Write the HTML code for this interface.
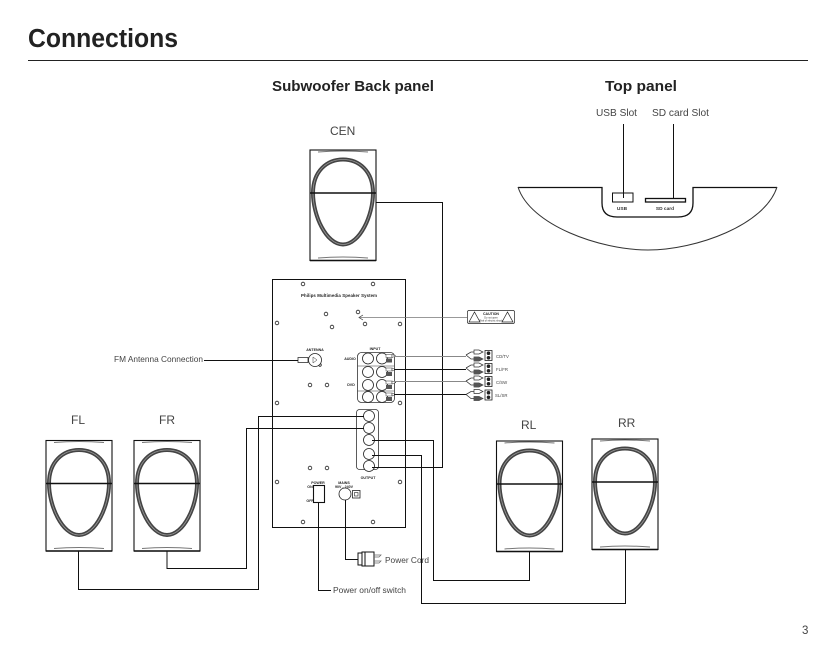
<!DOCTYPE html>
<html><head><meta charset="utf-8"><style>
html,body{margin:0;padding:0;background:#fff}
svg{display:block}
text{font-family:"Liberation Sans",sans-serif;fill:#444}
.h{font-weight:bold;fill:#222}
.w{fill:none;stroke:#111;stroke-width:1}
.c{fill:#fff;stroke:#222;stroke-width:.8}
.m{fill:#fff;stroke:#111;stroke-width:1}
.t{font-size:3.6px;fill:#222;font-weight:bold;text-anchor:middle}
</style></head><body>
<svg width="825" height="647" viewBox="0 0 825 647" xmlns="http://www.w3.org/2000/svg">
<defs>
<g id="sp">
<rect x="0" y="0" width="66" height="110.5" fill="#fff" stroke="#111" stroke-width="1.1"/>
<path d="M8 2Q33 0 58 2" fill="none" stroke="#777" stroke-width="1"/>
<path d="M8 108Q33 106 58 108" fill="none" stroke="#777" stroke-width="1"/>
<path d="M0 110.5H66" stroke="#111" stroke-width="1.6"/>
<path d="M3 43C3 21 17 9.500 33 9.500C49 9.500 63 21 63 43C63 65 50 94.500 33 94.500C16 94.500 3 65 3 43Z" fill="none" stroke="#444" stroke-width="4"/>
<path d="M3 43C3 21 17 9.500 33 9.500C49 9.500 63 21 63 43C63 65 50 94.500 33 94.500C16 94.500 3 65 3 43Z" fill="none" stroke="#999" stroke-width=".8"/>
<path d="M0 43H66" stroke="#111" stroke-width="1.400"/>
</g>
<g id="rca">
<path d="M-8 0L-3 -3H0M-8 0L-3 4H0" fill="none" stroke="#333" stroke-width=".8"/>
<path d="M0 -5H5L9 -3L5 -1H0ZM0 2H5L9 4L5 6H0Z" fill="#fff" stroke="#333" stroke-width=".7"/>
<path d="M0 2H5L9 4L5 6H0Z" fill="#555"/>
<rect x="11" y="-4.500" width="7" height="10" fill="#fff" stroke="#222" stroke-width=".8"/>
<circle cx="14.500" cy="-1.800" r="1.800" fill="#222"/><circle cx="14.500" cy="2.800" r="1.800" fill="#222"/>
</g>
<g id="in">
<circle cx="0" cy="0" r="5.500" class="c"/>
<circle cx="14" cy="0" r="5.500" class="c"/>
<rect x="18" y="-4" width="6" height="3" fill="#fff" stroke="#333" stroke-width=".5"/>
<rect x="18" y="0" width="6" height="4" fill="#555"/>
<path d="M24 -4L28 -2.500L24 -1Z" fill="#fff" stroke="#333" stroke-width=".5"/>
</g>
</defs>

<text x="28" y="47" class="h" font-size="25.500" textLength="150" lengthAdjust="spacingAndGlyphs">Connections</text>
<path d="M28 60.500H808" stroke="#222" stroke-width="1"/>
<text x="272" y="91" class="h" font-size="14.500" textLength="162" lengthAdjust="spacingAndGlyphs">Subwoofer Back panel</text>
<text x="605" y="91" class="h" font-size="14.500" textLength="72" lengthAdjust="spacingAndGlyphs">Top panel</text>

<text x="596" y="116" font-size="10.200" textLength="41" lengthAdjust="spacingAndGlyphs">USB Slot</text>
<text x="652" y="116" font-size="10.200" textLength="57" lengthAdjust="spacingAndGlyphs">SD card Slot</text>
<text x="330" y="135" font-size="12">CEN</text>
<text x="71" y="424" font-size="12">FL</text>
<text x="159" y="424" font-size="12">FR</text>
<text x="521" y="429" font-size="12">RL</text>
<text x="618" y="427" font-size="12">RR</text>
<text x="114" y="362" font-size="8.500" textLength="89" lengthAdjust="spacingAndGlyphs">FM Antenna Connection</text>
<text x="385" y="563" font-size="8.500" textLength="44" lengthAdjust="spacingAndGlyphs">Power Cord</text>
<text x="333" y="593" font-size="8.500" textLength="73" lengthAdjust="spacingAndGlyphs">Power on/off switch</text>
<text x="802" y="634" font-size="11.500" fill="#333">3</text>

<!-- top panel -->
<path d="M518 187.500H602V203Q602 217 617 217H678Q693 217 693 203V187.500H777" fill="none" stroke="#111" stroke-width="1.300"/>
<path d="M518 187C530 225 600 250 648 250C696 250 765 225 777 187" fill="none" stroke="#333" stroke-width="1"/>
<rect x="612.500" y="193" width="20.500" height="9" fill="none" stroke="#111" stroke-width="1"/>
<rect x="645.500" y="198.500" width="40" height="3.500" fill="#fff" stroke="#111" stroke-width="1.300"/>
<text x="622" y="210" font-size="4.800" font-weight="bold" text-anchor="middle" style="fill:#333">USB</text>
<text x="665" y="210" font-size="4.800" font-weight="bold" text-anchor="middle" style="fill:#333">SD card</text>
<path d="M623.500 124V198M673.500 124V199" stroke="#111" stroke-width="1"/>

<!-- speakers -->
<use href="#sp" x="310" y="150"/>
<use href="#sp" x="46" y="440.500"/>
<use href="#sp" x="134" y="440.500"/>
<use href="#sp" x="496.500" y="441"/>
<use href="#sp" x="592" y="439"/>

<!-- panel -->
<rect x="272.500" y="279.500" width="133" height="248" fill="#fff" stroke="#111" stroke-width="1"/>
<text x="339" y="297" font-size="4.300" font-weight="bold" text-anchor="middle" textLength="76" style="fill:#222">Philips Multimedia Speaker System</text>
<g fill="#fff" stroke="#222" stroke-width=".8">
<circle cx="303" cy="284" r="1.800"/><circle cx="373" cy="284" r="1.800"/><circle cx="326" cy="314" r="1.800"/><circle cx="358" cy="312" r="1.800"/><circle cx="332" cy="327" r="1.800"/><circle cx="277" cy="323" r="1.800"/><circle cx="365" cy="324" r="1.800"/><circle cx="400" cy="324" r="1.800"/><circle cx="310" cy="385" r="1.800"/><circle cx="327" cy="385" r="1.800"/><circle cx="277" cy="403" r="1.800"/><circle cx="400" cy="403" r="1.800"/><circle cx="310" cy="468" r="1.800"/><circle cx="327" cy="468" r="1.800"/><circle cx="277" cy="482" r="1.800"/><circle cx="400" cy="482" r="1.800"/><circle cx="303" cy="522" r="1.800"/><circle cx="373" cy="522" r="1.800"/><circle cx="320" cy="365" r="1.300"/>
</g>
<text x="315" y="351" class="t">ANTENNA</text>
<text x="350" y="360" class="t">AUDIO</text>
<text x="351" y="386" class="t">DVD</text>
<text x="375" y="350" class="t">INPUT</text>
<text x="368" y="479" class="t">OUTPUT</text>
<text x="318" y="484" class="t">POWER</text>
<text x="344" y="484" class="t">MAINS</text>
<text x="344" y="488" class="t">90V - 240V</text>
<text x="310" y="488" class="t">ON</text>
<text x="310" y="502" class="t">OFF</text>
<rect x="298" y="357.500" width="10" height="5" fill="#fff" stroke="#333" stroke-width=".8"/>
<circle cx="315" cy="360" r="6.500" class="c"/>
<path d="M313 357V363L317 360Z" fill="none" stroke="#333" stroke-width=".5"/>
<rect x="357.500" y="352.500" width="37" height="50" rx="4" fill="none" stroke="#333" stroke-width=".8"/>
<path d="M357.500 366H394M357.500 391H394" stroke="#333" stroke-width=".5" fill="none"/>
<use href="#in" x="368" y="358.500"/><use href="#in" x="368" y="372"/><use href="#in" x="368" y="385"/><use href="#in" x="368" y="397"/>
<rect x="356.500" y="409.500" width="22" height="60" rx="3" fill="none" stroke="#333" stroke-width=".8"/>
<circle cx="369" cy="416" r="5.500" class="c"/><circle cx="369" cy="428" r="5.500" class="c"/><circle cx="369" cy="440" r="5.500" class="c"/><circle cx="369" cy="454" r="5.500" class="c"/><circle cx="369" cy="466" r="5.500" class="c"/>
<rect x="313.500" y="485.500" width="11" height="17" fill="#fff" stroke="#111" stroke-width="1.100"/>
<circle cx="345" cy="494" r="6" class="c"/>
<rect x="352.500" y="490.500" width="7.500" height="7.500" fill="#fff" stroke="#222" stroke-width=".8"/>
<rect x="354.500" y="492.500" width="3.500" height="3.500" fill="none" stroke="#222" stroke-width=".6"/>

<!-- wires -->
<path class="w" d="M376 202.500H442.500V467.500H372"/>
<path class="w" d="M78.500 551V589.500H258.500V416.500H364"/>
<path class="w" d="M167 551V568.500H246.500V428.500H364"/>
<path class="w" d="M372 440.500H433.500V580.500H529.500V551"/>
<path class="w" d="M372 455.500H421.500V603.500H625.500V549"/>
<path class="w" d="M204 360.500H298"/>
<path class="w" d="M318.500 502V590.500H331"/>
<path class="w" d="M345.500 500V559.500H358"/>
<path d="M360 317.500H467" stroke="#777" stroke-width=".8"/>
<path d="M363 315L359 317.500L363 320" fill="none" stroke="#333" stroke-width=".7"/>
<path d="M394 356.500H466M394 381.500H466" stroke="#888" stroke-width="1"/>
<path d="M394 369.500H466M394 394.500H466" stroke="#111" stroke-width="1"/>

<!-- plug -->
<rect x="358" y="553" width="4" height="12" class="m"/>
<path d="M362 552H374V566H362Z" class="m"/>
<path d="M365 552V566" stroke="#111"/>
<path d="M374 555H381L379 557H374M374 561H381L379 563H374" fill="none" stroke="#666" stroke-width=".7"/>

<!-- caution -->
<rect x="467.500" y="310.500" width="47" height="13" rx="1.500" fill="#fff" stroke="#222" stroke-width=".7"/>
<path d="M469 322L474.500 312L480 322ZM502 322L507.500 312L513 322Z" fill="#fff" stroke="#222" stroke-width=".7"/>
<text x="491" y="315" font-size="3.500" font-weight="bold" text-anchor="middle" style="fill:#222">CAUTION</text>
<text x="491" y="318.500" font-size="2.500" text-anchor="middle" style="fill:#333">Do not open</text>
<text x="491" y="321.500" font-size="2.500" text-anchor="middle" style="fill:#333">Risk of electric shock</text>

<!-- RCA -->
<use href="#rca" x="474" y="355"/><use href="#rca" x="474" y="368"/><use href="#rca" x="474" y="381"/><use href="#rca" x="474" y="394.500"/>
<text x="496" y="358" font-size="4.300" style="fill:#444">CD/TV</text>
<text x="496" y="371" font-size="4.300" style="fill:#444">FL/FR</text>
<text x="496" y="384" font-size="4.300" style="fill:#444">C/SW</text>
<text x="495" y="397" font-size="4.300" style="fill:#444">SL/SR</text>
</svg>
</body></html>
